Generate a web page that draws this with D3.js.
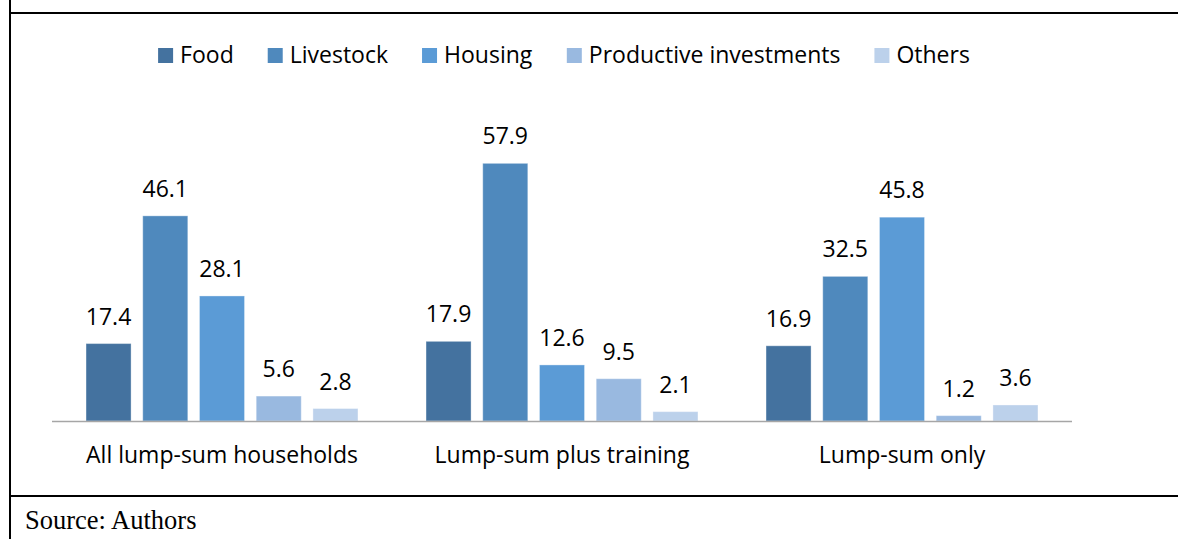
<!DOCTYPE html>
<html>
<head>
<meta charset="utf-8">
<script src="https://cdn.jsdelivr.net/npm/d3@7"></script>
<style>
  body { margin: 0; background: #fff; }
  svg { display: block; }
</style>
</head>
<body>
<div id="chart"></div>
<script>
  var groups = ['All lump-sum households', 'Lump-sum plus training', 'Lump-sum only'];
  var seriesNames = ['Food', 'Livestock', 'Housing', 'Productive investments', 'Others'];
  var food = [17.4, 17.9, 16.9];
  var livestock = [46.1, 57.9, 32.5];
  var housing = [28.1, 12.6, 45.8];
  var productive = [5.6, 9.5, 1.2];
  var others = [2.8, 2.1, 3.6];
  var colors = ['#44729f', '#4f89bd', '#5b9bd6', '#99b9e0', '#bcd1eb'];

  var seriesValues = [food, livestock, housing, productive, others];
  var width = 1178, height = 539;
  var font = '"Open Sans", sans-serif';

  var svg = d3.select('#chart')
    .append('svg')
    .attr('width', width)
    .attr('height', height);

  // frame lines of the surrounding table
  svg.append('line')
    .attr('x1', 10).attr('x2', width)
    .attr('y1', 13).attr('y2', 13)
    .style('stroke', '#000').style('stroke-width', 2);
  svg.append('line')
    .attr('x1', 10).attr('x2', width)
    .attr('y1', 496).attr('y2', 496)
    .style('stroke', '#000').style('stroke-width', 2);
  svg.append('line')
    .attr('x1', 10).attr('x2', 10)
    .attr('y1', 0).attr('y2', height)
    .style('stroke', '#000').style('stroke-width', 2);

  svg.append('text')
    .attr('x', 25)
    .attr('y', 529)
    .style('font-family', '"Liberation Serif", "Times New Roman", serif')
    .style('font-size', '26.5px')
    .style('fill', '#000')
    .text('Source: Authors');

  var x0 = d3.scaleBand()
    .domain(groups)
    .range([52, 1072])
    .paddingInner(0)
    .paddingOuter(0);

  var x1 = d3.scaleBand()
    .domain(seriesNames)
    .range([0, x0.bandwidth()])
    .paddingInner(0.206)
    .paddingOuter(0.6);

  var y = d3.scaleLinear()
    .domain([0, 60])
    .range([421, 421 - 60 * 4.45]);

  var data = [];
  groups.forEach(function (g, gi) {
    seriesNames.forEach(function (s, si) {
      data.push({ group: g, series: s, value: seriesValues[si][gi], color: colors[si] });
    });
  });

  var bars = svg.append('g');
  bars.selectAll('rect')
    .data(data)
    .enter()
    .append('rect')
    .attr('x', function (d) { return x0(d.group) + x1(d.series); })
    .attr('width', x1.bandwidth())
    .attr('y', function (d) { return y(d.value); })
    .attr('height', function (d) { return y(0) - y(d.value); })
    .style('fill', function (d) { return d.color; })
    .style('stroke', 'rgba(255,255,255,0.35)')
    .style('stroke-width', 1);

  bars.selectAll('text')
    .data(data)
    .enter()
    .append('text')
    .attr('x', function (d) { return x0(d.group) + x1(d.series) + x1.bandwidth() / 2; })
    .attr('y', function (d) { return y(d.value) - 19; })
    .attr('text-anchor', 'middle')
    .style('font-family', font)
    .style('font-size', '23px')
    .style('fill', '#000')
    .text(function (d) { return d.value.toFixed(1); });

  // category axis
  var xAxis = svg.append('g')
    .attr('transform', 'translate(0,' + y(0) + ')')
    .call(d3.axisBottom(x0).tickSize(0).tickPadding(0));
  xAxis.select('.domain')
    .attr('d', 'M52,0.5H1072')
    .style('stroke', '#a6a6a6')
    .style('stroke-width', 1.5);
  xAxis.selectAll('text')
    .attr('y', 42)
    .attr('dy', 0)
    .style('font-family', font)
    .style('font-size', '23px')
    .style('fill', '#000');

  // legend
  var legend = svg.append('g');
  var items = legend.selectAll('g')
    .data(seriesNames)
    .enter()
    .append('g');
  items.append('rect')
    .attr('width', 15)
    .attr('height', 15)
    .attr('y', 48)
    .style('fill', function (d, i) { return colors[i]; });
  items.append('text')
    .attr('x', 22)
    .attr('y', 63)
    .style('font-family', font)
    .style('font-size', '23px')
    .style('fill', '#000')
    .text(function (d) { return d; });

  var offset = 0, widths = [];
  items.each(function () {
    widths.push(this.getBBox().width);
  });
  var total = d3.sum(widths) + 34 * (widths.length - 1);
  offset = 564 - total / 2;
  items.attr('transform', function (d, i) {
    var t = 'translate(' + offset + ',0)';
    offset += widths[i] + 34;
    return t;
  });
</script>
</body>
</html>
